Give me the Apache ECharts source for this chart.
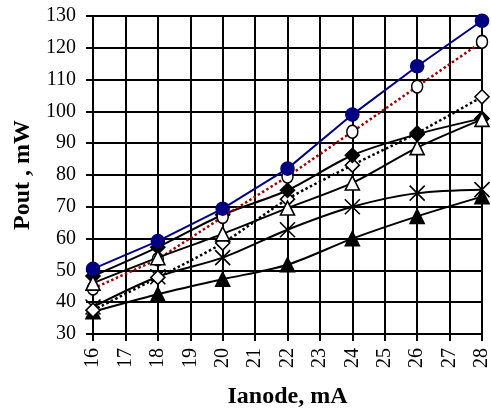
<!DOCTYPE html>
<html><head><meta charset="utf-8">
<script src="https://cdn.jsdelivr.net/npm/echarts@6/dist/echarts.min.js"></script>
<style>html,body{margin:0;padding:0;background:#fff}#c{width:491px;height:412px}</style>
</head><body><div id="c"></div>
<script>
const xs = [16, 18, 20, 22, 24, 26, 28];
const blueCircle = [50.5, 59.2, 69.4, 82, 99, 114.2, 128.5];
const openCircle = [44.3, 53.5, 66.8, 79.5, 93.6, 107.8, 121.9];
const filledDiamond = [48.2, 57.3, 67.5, 75.2, 86.2, 92.8, 97.8];
const openDiamond = [37.5, 47.8, 58.6, 72.4, 83.1, 93.2, 104.6];
const openTriangle = [46, 54, 61.5, 69.6, 77.5, 88.6, 97.5];
const crossVals = [38.5, 48, 54, 62.8, 70, 74.3, 75.4];
const filledTriangle = [37, 42.5, 47.2, 51.8, 60, 67, 73.2];

const pair = v => xs.map((x, i) => [x, v[i]]);
const FONT = 'Liberation Serif';
const X_PATH = 'path://M0,0L10,10M10,0L0,10';

const chart = echarts.init(document.getElementById('c'));
function mk(name, data, symbol, size, fill, lineType, lineColor, smooth, z) {
  return {
    name, type: 'line', data: pair(data), symbol, symbolSize: size, smooth, z,
    lineStyle: { color: lineColor, width: lineType === 'dotted' ? 2.5 : 2, type: lineType },
    itemStyle: { color: fill, borderColor: fill === '#000080' ? '#000080' : '#000', borderWidth: 1.6, opacity: 1 },
    emphasis: { disabled: true }
  };
}
chart.setOption({
  animation: false,
  grid: { left: 93, right: 9, top: 16, bottom: 78, containLabel: false, outerBoundsMode: 'none' },
  xAxis: {
    type: 'value', min: 16, max: 28, interval: 1,
    name: 'Ianode, mA', nameLocation: 'middle', nameGap: 51,
    nameTextStyle: { fontFamily: FONT, fontWeight: 'bold', fontSize: 24, color: '#000' },
    axisLine: { lineStyle: { color: '#000', width: 2 } },
    axisTick: { show: true, length: 7, lineStyle: { color: '#000', width: 2 } },
    axisLabel: { rotate: 90, fontFamily: FONT, fontSize: 20, color: '#000', margin: 14 },
    splitLine: { show: true, lineStyle: { color: '#000', width: 2 } }
  },
  yAxis: {
    type: 'value', min: 30, max: 130, interval: 10,
    name: 'Pout , mW', nameLocation: 'middle', nameGap: 58, nameRotate: 90,
    nameTextStyle: { fontFamily: FONT, fontWeight: 'bold', fontSize: 24, color: '#000' },
    axisLine: { show: true, lineStyle: { color: '#000', width: 2 } },
    axisTick: { show: true, length: 7, lineStyle: { color: '#000', width: 2 } },
    axisLabel: { fontFamily: FONT, fontSize: 20, color: '#000', margin: 17 },
    splitLine: { show: true, lineStyle: { color: '#000', width: 2 } }
  },
  series: [
    mk('filledTriangle', filledTriangle, 'triangle', 14, '#000', 'solid', '#000', 0.3, 2),
    mk('cross', crossVals, X_PATH, 15, '#fff', 'solid', '#000', 0.3, 3),
    mk('openDiamond', openDiamond, 'diamond', 14, '#fff', 'dotted', '#000', 0.3, 4),
    mk('filledDiamond', filledDiamond, 'diamond', 14, '#000', 'solid', '#000', 0.3, 5),
    mk('openCircle', openCircle, 'circle', [11, 13], '#fff', 'dotted', '#a00000', false, 6),
    mk('openTriangle', openTriangle, 'triangle', 14, '#fff', 'solid', '#000', 0.3, 7),
    mk('blueCircle', blueCircle, 'circle', 13, '#000080', 'solid', '#000080', false, 8)
  ]
});
</script></body></html>
